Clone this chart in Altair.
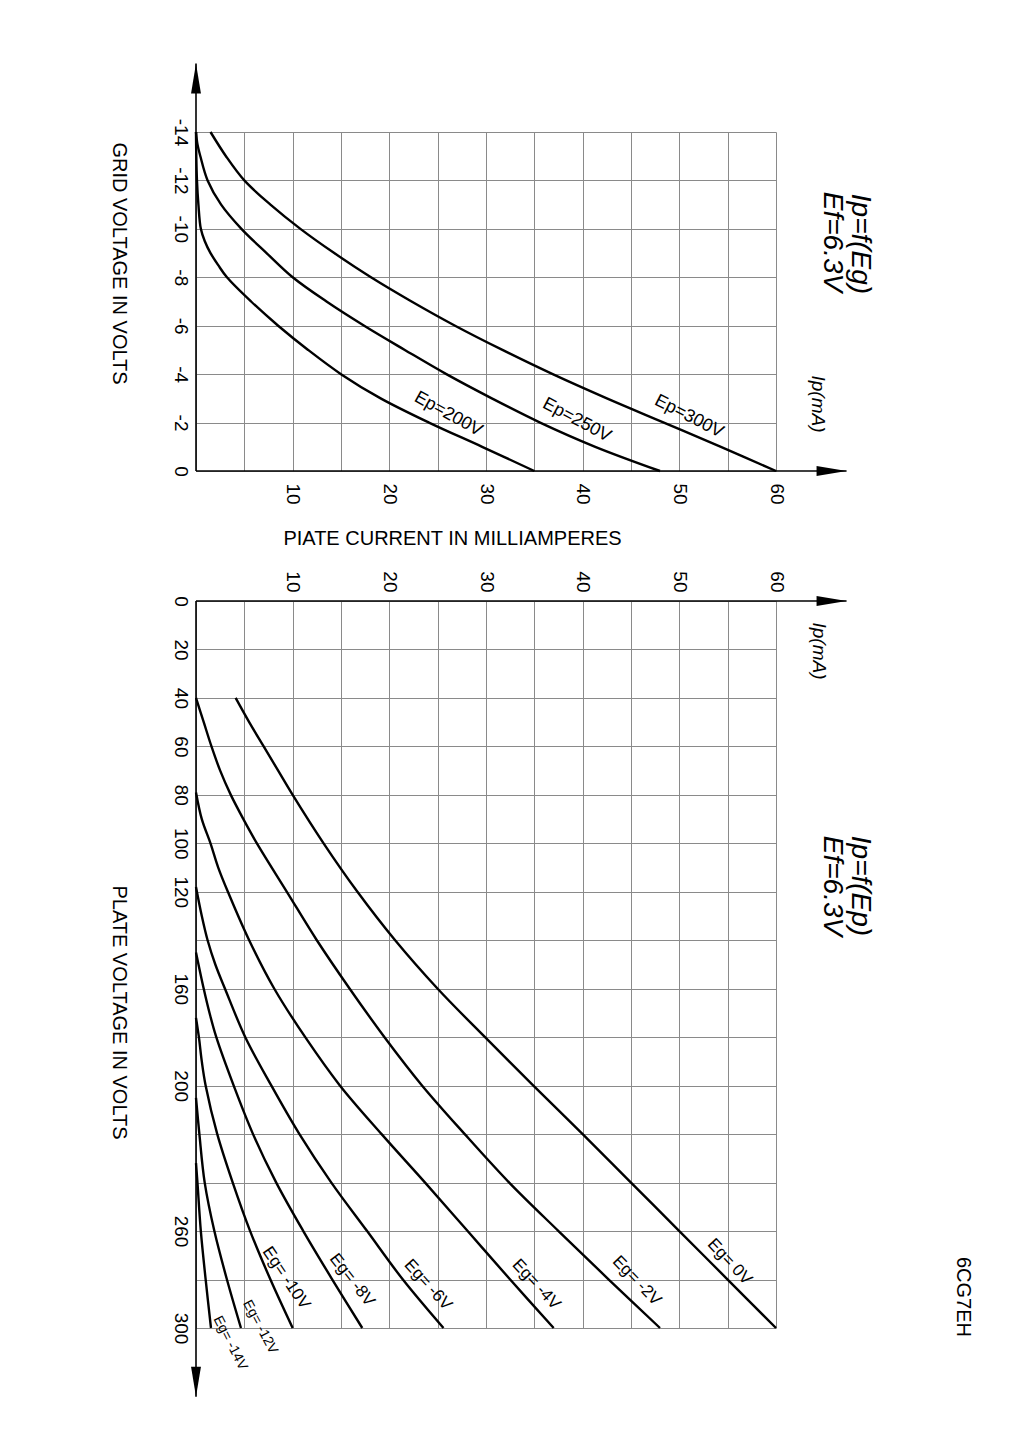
import altair as alt
import pandas as pd

FONT = "Liberation Sans"
GRID = "#8a8a8a"

# ---------------- Ip = f(Eg) (upper panel) ----------------
EG_200 = [-14, -13, -12, -11, -10, -9.5, -9, -8.5, -8, -7, -6, -5, -4, -3, -2, -1, 0]
IP_200 = [0, 0.03, 0.1, 0.25, 0.5, 0.9, 1.5, 2.3, 3.2, 5.7, 8.5, 11.6, 15.0, 19.1, 24.1, 29.6, 35.0]
EG_250 = [-14, -13.5, -13, -12, -11, -10, -9, -8, -7, -6, -5, -4, -3, -2, -1, 0]
IP_250 = [0, 0.15, 0.45, 1.2, 2.6, 4.7, 7.3, 10.0, 13.5, 17.4, 21.6, 25.9, 30.6, 35.6, 41.3, 48.0]
EG_300 = [-14, -13, -12, -11, -10, -9, -8, -7, -6, -5, -4, -3, -2, -1, 0]
IP_300 = [1.5, 3.1, 5.0, 7.7, 10.8, 14.3, 18.1, 22.3, 26.8, 31.7, 36.9, 42.5, 48.4, 54.3, 60.0]
TOP_NAMES = ["Ep=200V", "Ep=250V", "Ep=300V"]

# ---------------- Ip = f(Ep) (lower panel) ----------------
EP_G0 = [40, 50, 60, 70, 80, 100, 120, 140, 160, 180, 200, 220, 240, 260, 280, 300]
IP_G0 = [4.1, 5.5, 7.0, 8.5, 10.0, 13.2, 16.7, 20.6, 25.0, 29.9, 34.9, 40.0, 45.0, 50.0, 55.0, 60.0]
EP_G2 = [40, 50, 60, 70, 80, 90, 100, 120, 140, 160, 180, 200, 220, 240, 260, 280, 300]
IP_G2 = [0, 0.8, 1.6, 2.5, 3.6, 4.9, 6.3, 9.4, 12.5, 15.9, 19.5, 23.4, 27.8, 32.4, 37.5, 42.7, 48.0]
EP_G4 = [79, 90, 100, 110, 120, 140, 160, 180, 200, 220, 240, 260, 280, 300]
IP_G4 = [0, 0.6, 1.5, 2.3, 3.3, 5.5, 8.1, 11.3, 14.9, 19.2, 23.7, 28.1, 32.5, 37.0]
EP_G6 = [118, 130, 140, 150, 160, 180, 200, 220, 240, 260, 280, 300]
IP_G6 = [0, 0.6, 1.2, 2.0, 3.0, 5.1, 7.8, 10.7, 14.0, 17.7, 21.4, 25.6]
EP_G8 = [145, 160, 170, 180, 200, 220, 240, 260, 280, 300]
IP_G8 = [0, 0.8, 1.4, 2.1, 3.9, 5.9, 8.3, 11.1, 14.1, 17.2]
EP_G10 = [172, 180, 190, 200, 220, 240, 260, 280, 300]
IP_G10 = [0, 0.3, 0.6, 1.0, 2.2, 3.8, 5.6, 7.7, 10.0]
EP_G12 = [205, 220, 240, 260, 280, 300]
IP_G12 = [0, 0.35, 0.9, 1.9, 3.2, 4.65]
EP_G14 = [232, 240, 260, 280, 300]
IP_G14 = [0, 0.15, 0.5, 1.0, 1.55]
BOT_NAMES = ["Eg= 0V", "Eg= -2V", "Eg= -4V", "Eg= -6V", "Eg= -8V", "Eg= -10V", "Eg= -12V", "Eg= -14V"]

# ---------------- axes ----------------
IP_TICKS = list(range(0, 61, 5))
EG_TICKS = list(range(-14, 1, 2))
EP_TICKS = list(range(0, 301, 20))
EP_LABELED = [0, 20, 40, 60, 80, 100, 120, 160, 200, 260, 300]

# curve label anchors (text, Ip, voltage, angle, font size)
TOP_LABELS = [("Ep=200V", 26.1, -2.35, 29, 18), ("Ep=250V", 39.4, -2.1, 28, 18),
              ("Ep=300V", 51.0, -2.25, 27, 18)]
BOT_LABELS = [("Eg= 0V", 55.2, 272.7, 47, 17), ("Eg= -2V", 45.6, 280.5, 46, 17),
              ("Eg= -4V", 35.2, 282.0, 47, 17), ("Eg= -6V", 24.0, 282.2, 48, 17),
              ("Eg= -8V", 16.15, 280.2, 52, 17), ("Eg= -10V", 9.33, 279.4, 56, 17),
              ("Eg= -12V", 6.64, 299.6, 62, 14), ("Eg= -14V", 3.54, 306.2, 63, 14)]

W = 580
H_TOP = 339
H_BOT = 727
ARROW_IP = 67.3
ARROW_EG = -16.83
ARROW_EP = 328.4


def frame(names, xs_list, ys_list):
    rows = []
    for name, xs, ys in zip(names, xs_list, ys_list):
        for i, (x, y) in enumerate(zip(xs, ys)):
            rows.append({"curve": name, "Ip": x, "V": y, "order": i})
    return pd.DataFrame(rows)


top_df = frame(TOP_NAMES, [IP_200, IP_250, IP_300], [EG_200, EG_250, EG_300])
bot_df = frame(BOT_NAMES,
               [IP_G0, IP_G2, IP_G4, IP_G6, IP_G8, IP_G10, IP_G12, IP_G14],
               [EP_G0, EP_G2, EP_G4, EP_G6, EP_G8, EP_G10, EP_G12, EP_G14])
one = pd.DataFrame({"k": [0]})

common_axis = dict(grid=True, gridColor=GRID, gridWidth=1, ticks=False, tickSize=0,
                   domain=False, labelFont=FONT, labelFontSize=19, labelColor="black",
                   labelOverlap=False, labelFlush=False, labelAngle=90,
                   titleFont=FONT, titleFontSize=20, titleFontWeight="normal",
                   titleColor="black")

ip_scale = alt.Scale(domain=[0, 60], nice=False, zero=False)

# ---------------- upper panel ----------------
x_top = alt.X("Ip:Q", scale=ip_scale, axis=alt.Axis(
    values=IP_TICKS, orient="bottom",
    labelExpr="datum.value % 10 == 0 && datum.value > 0 ? datum.label : ''",
    labelAlign="left", labelBaseline="middle", labelPadding=12,
    title="PIATE CURRENT IN MILLIAMPERES", titleX=256, titleY=67, titleAngle=0,
    titleAlign="center", titleBaseline="middle", **common_axis))
y_top = alt.Y("V:Q", scale=alt.Scale(domain=[-14, 0], reverse=True, nice=False, zero=False),
              axis=alt.Axis(values=EG_TICKS, orient="left", labelAlign="center",
                            labelBaseline="top", labelPadding=7,
                            labelExpr="'' + datum.value",
                            title="GRID VOLTAGE IN VOLTS", titleAngle=90, titleX=-78,
                            titleY=131, titleAlign="center", titleBaseline="middle",
                            **common_axis))

top_lines = alt.Chart(top_df).mark_line(color="black", strokeWidth=2.4,
                                        interpolate="catmull-rom").encode(
    x=x_top, y=y_top, detail="curve:N", order="order:Q")

top_layers = [top_lines]
top_layers.append(alt.Chart(one).mark_rule(color="black", strokeWidth=1.6).encode(
    x=alt.datum(0), y=alt.datum(0), y2=alt.datum(ARROW_EG)))
top_layers.append(alt.Chart(one).mark_rule(color="black", strokeWidth=1.6).encode(
    x=alt.datum(0), x2=alt.datum(ARROW_IP), y=alt.datum(0)))
top_layers.append(alt.Chart(one).mark_point(shape="M0,0L0.33,2L-0.33,2Z", size=900, filled=True,
                                            color="black", opacity=1, strokeWidth=0).encode(
    x=alt.datum(0), y=alt.datum(ARROW_EG)))
top_layers.append(alt.Chart(one).mark_point(shape="M0,0L-2,-0.33L-2,0.33Z", size=900, filled=True,
                                            color="black", opacity=1, strokeWidth=0).encode(
    x=alt.datum(ARROW_IP), y=alt.datum(0)))
for txt, ip, v, ang, fs in TOP_LABELS:
    top_layers.append(alt.Chart(one).mark_text(text=txt, angle=ang, fontSize=fs, font=FONT,
                                               align="center", baseline="middle", color="black").encode(
        x=alt.datum(ip), y=alt.datum(v)))
for txt, px, py, fs, style in [("Ip=f(Eg)", 664, 112, 28, "italic"),
                               ("Ef=6.3V", 636, 110, 28, "italic"),
                               ("Ip(mA)", 622, 272, 19, "italic")]:
    top_layers.append(alt.Chart(one).mark_text(text=txt, angle=90, fontSize=fs, font=FONT,
                                               fontStyle=style, align="center",
                                               baseline="middle", color="black").encode(
        x=alt.value(px), y=alt.value(py)))

top = alt.layer(*top_layers).properties(width=W, height=H_TOP)

# ---------------- lower panel ----------------
x_bot = alt.X("Ip:Q", scale=ip_scale, axis=alt.Axis(
    values=IP_TICKS, orient="top",
    labelExpr="datum.value % 10 == 0 && datum.value > 0 ? datum.label : ''",
    labelAlign="right", labelBaseline="middle", labelPadding=9, title=None, **common_axis))
y_bot = alt.Y("V:Q", scale=alt.Scale(domain=[0, 300], reverse=True, nice=False, zero=False),
              axis=alt.Axis(values=EP_TICKS, orient="left", labelAlign="center",
                            labelBaseline="top", labelPadding=7,
                            labelExpr="indexof(" + str(EP_LABELED) + ", datum.value) >= 0 ? datum.label : ''",
                            title="PLATE VOLTAGE IN VOLTS", titleAngle=90, titleX=-78,
                            titleY=411, titleAlign="center", titleBaseline="middle",
                            **common_axis))

bot_lines = alt.Chart(bot_df).mark_line(color="black", strokeWidth=2.4,
                                        interpolate="catmull-rom").encode(
    x=x_bot, y=y_bot, detail="curve:N", order="order:Q")

bot_layers = [bot_lines]
bot_layers.append(alt.Chart(one).mark_rule(color="black", strokeWidth=1.6).encode(
    x=alt.datum(0), y=alt.datum(0), y2=alt.datum(ARROW_EP)))
bot_layers.append(alt.Chart(one).mark_rule(color="black", strokeWidth=1.6).encode(
    x=alt.datum(0), x2=alt.datum(ARROW_IP), y=alt.datum(0)))
bot_layers.append(alt.Chart(one).mark_point(shape="M0,0L0.33,-2L-0.33,-2Z", size=900, filled=True,
                                            color="black", opacity=1, strokeWidth=0).encode(
    x=alt.datum(0), y=alt.datum(ARROW_EP)))
bot_layers.append(alt.Chart(one).mark_point(shape="M0,0L-2,-0.33L-2,0.33Z", size=900, filled=True,
                                            color="black", opacity=1, strokeWidth=0).encode(
    x=alt.datum(ARROW_IP), y=alt.datum(0)))
for txt, ip, v, ang, fs in BOT_LABELS:
    bot_layers.append(alt.Chart(one).mark_text(text=txt, angle=ang, fontSize=fs, font=FONT,
                                               align="center", baseline="middle", color="black").encode(
        x=alt.datum(ip), y=alt.datum(v)))
for txt, px, py, fs, style in [("Ip=f(Ep)", 664, 285, 28, "italic"),
                               ("Ef=6.3V", 636, 285, 28, "italic"),
                               ("Ip(mA)", 623, 50, 19, "italic"),
                               ("6CG7EH", 767, 696, 20, "normal")]:
    bot_layers.append(alt.Chart(one).mark_text(text=txt, angle=90, fontSize=fs, font=FONT,
                                               fontStyle=style, align="center",
                                               baseline="middle", color="black").encode(
        x=alt.value(px), y=alt.value(py)))

bottom = alt.layer(*bot_layers).properties(width=W, height=H_BOT)

chart = alt.vconcat(top, bottom, spacing=130, bounds="flush").properties(
    autosize=alt.AutoSizeParams(type="none"),
    padding={"left": 196, "top": 132, "right": 1018 - 196 - W, "bottom": 1308},
    background="white",
).configure_view(stroke=None)

chart.save("out.html", embed_options={"renderer": "svg", "actions": False})
